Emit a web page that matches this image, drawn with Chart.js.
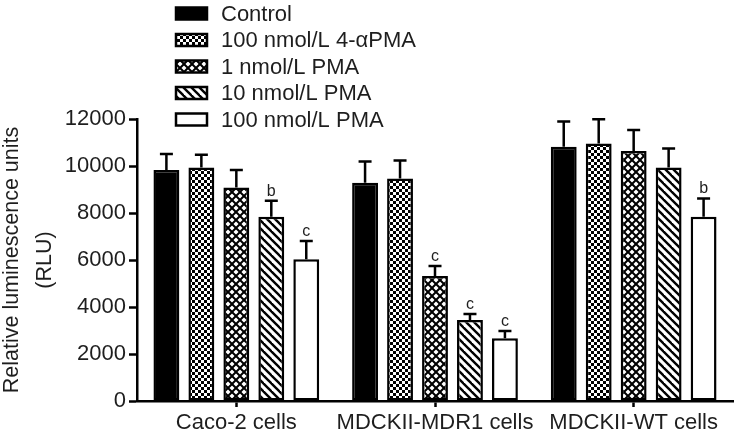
<!DOCTYPE html>
<html>
<head>
<meta charset="utf-8">
<script src="https://cdn.jsdelivr.net/npm/chart.js@4.4.1/dist/chart.umd.min.js"></script>
<style>
  html, body { margin: 0; padding: 0; background: #fff; }
  #wrap { width: 740px; height: 438px; }
</style>
</head>
<body>
<div id="wrap"><canvas id="chart"></canvas></div>
<script>
// values
var groups = ["Caco-2 cells", "MDCKII-MDR1 cells", "MDCKII-WT cells"];
var seriesNames = ["Control", "100 nmol/L 4-\u03b1PMA", "1 nmol/L PMA", "10 nmol/L PMA", "100 nmol/L PMA"];

var control   = [9830, 9290, 10820];
var alphaPma  = [9940, 9470, 10960];
var pma1      = [9090, 5320, 10640];
var pma10     = [7840, 3450, 9940];
var pma100    = [6030, 2670, 7840];

var controlErr  = [680, 900, 1070];
var alphaPmaErr = [540, 760, 1030];
var pma1Err     = [740, 420, 890];
var pma10Err    = [680, 250, 810];
var pma100Err   = [780, 310, 780];

var pma1Marks   = ["", "c", ""];
var pma10Marks  = ["b", "c", ""];
var pma100Marks = ["c", "c", "b"];

var yTicks = [0, 2000, 4000, 6000, 8000, 10000, 12000];

var FONT = "'Liberation Sans', Arial, sans-serif";
var TXT = "#1e1e1e";

function makeTile(size, draw) {
  var c = document.createElement("canvas");
  c.width = size; c.height = size;
  var g = c.getContext("2d");
  g.fillStyle = "#fff";
  g.fillRect(0, 0, size, size);
  draw(g, size);
  return document.createElement("canvas").getContext("2d").createPattern(c, "repeat");
}

var checker = makeTile(6, function (g) {
  g.fillStyle = "#000";
  g.fillRect(0, 0, 3, 3);
  g.fillRect(3, 3, 3, 3);
});

var cross = makeTile(8, function (g, s) {
  g.strokeStyle = "#000";
  g.lineWidth = 2;
  [-s, 0, s].forEach(function (o) {
    g.beginPath(); g.moveTo(o - 1, -1); g.lineTo(o + s + 1, s + 1); g.stroke();
    g.beginPath(); g.moveTo(o - 1, s + 1); g.lineTo(o + s + 1, -1); g.stroke();
  });
});

var stripes = makeTile(8, function (g, s) {
  g.strokeStyle = "#000";
  g.lineWidth = 2.4;
  [-s, 0, s].forEach(function (o) {
    g.beginPath(); g.moveTo(o - 1, -1); g.lineTo(o + s + 1, s + 1); g.stroke();
  });
});

var fills = ["#000", checker, cross, stripes, "#fff"];
var values = [control, alphaPma, pma1, pma10, pma100];
var errs = [controlErr, alphaPmaErr, pma1Err, pma10Err, pma100Err];
var marks = [null, null, pma1Marks, pma10Marks, pma100Marks];

var datasets = values.map(function (v, i) {
  return {
    label: seriesNames[i],
    data: v,
    err: errs[i],
    marks: marks[i],
    backgroundColor: fills[i],
    borderColor: "#000",
    borderWidth: 2.5,
    borderSkipped: false,
    categoryPercentage: 0.88,
    barPercentage: 0.74
  };
});

// upper error whiskers and significance letters
var errorBars = {
  id: "errorBars",
  afterDatasetsDraw: function (chart) {
    var ctx = chart.ctx;
    var y = chart.scales.y;
    ctx.save();
    ctx.strokeStyle = "#000";
    ctx.lineWidth = 2.5;
    chart.data.datasets.forEach(function (ds, di) {
      var meta = chart.getDatasetMeta(di);
      meta.data.forEach(function (bar, i) {
        var top = y.getPixelForValue(ds.data[i]);
        var hi = y.getPixelForValue(ds.data[i] + ds.err[i]);
        ctx.beginPath();
        ctx.moveTo(bar.x, top);
        ctx.lineTo(bar.x, hi);
        ctx.moveTo(bar.x - 6.5, hi);
        ctx.lineTo(bar.x + 6.5, hi);
        ctx.stroke();
        if (ds.marks && ds.marks[i]) {
          ctx.fillStyle = TXT;
          ctx.font = "16px " + FONT;
          ctx.textAlign = "center";
          ctx.textBaseline = "alphabetic";
          ctx.fillText(ds.marks[i], bar.x, hi - 5);
        }
      });
    });
    ctx.restore();
  }
};

// legend drawn over the top of the plot, as in the figure
var boxLegend = {
  id: "boxLegend",
  afterDraw: function (chart) {
    var ctx = chart.ctx;
    ctx.save();
    chart.data.datasets.forEach(function (ds, i) {
      var cy = 13.5 + i * 26.5;
      ctx.fillStyle = ds.backgroundColor;
      ctx.fillRect(176, cy - 6, 31, 12);
      ctx.strokeStyle = "#000";
      ctx.lineWidth = 2.5;
      ctx.strokeRect(176, cy - 6, 31, 12);
      ctx.fillStyle = TXT;
      ctx.font = "22px " + FONT;
      ctx.textAlign = "left";
      ctx.textBaseline = "middle";
      ctx.fillText(ds.label, 221, cy + 1);
    });
    ctx.restore();
  }
};

new Chart(document.getElementById("chart"), {
  type: "bar",
  data: { labels: groups, datasets: datasets },
  plugins: [errorBars, boxLegend],
  options: {
    responsive: true,
    maintainAspectRatio: false,
    animation: false,
    layout: { padding: { top: 119, right: 7, left: 0, bottom: 0 } },
    plugins: { legend: { display: false }, tooltip: { enabled: false } },
    scales: {
      x: {
        afterFit: function (s) { s.height = 37; },
        grid: { display: true, drawOnChartArea: false, offset: false, tickLength: 6, tickColor: "#000", tickWidth: 2.5 },
        border: { color: "#000", width: 2.5 },
        ticks: { color: TXT, font: { family: FONT, size: 22 }, padding: 3, maxRotation: 0, autoSkip: false }
      },
      y: {
        min: 0,
        max: 12000,
        afterFit: function (s) { s.width = 137; },
        afterBuildTicks: function (s) { s.ticks = yTicks.map(function (v) { return { value: v }; }); },
        grid: { display: true, drawOnChartArea: false, tickLength: 8, tickColor: "#000", tickWidth: 2.5 },
        border: { color: "#000", width: 2.5 },
        ticks: {
          color: TXT,
          font: { family: FONT, size: 22 },
          padding: 3,
          callback: function (v) { return String(v); }
        },
        title: {
          display: true,
          text: ["Relative luminescence units", "(RLU)"],
          color: TXT,
          font: { family: FONT, size: 21.5, lineHeight: 1.52 },
          padding: { top: -4, bottom: 0 }
        }
      }
    }
  }
});
</script>
</body>
</html>
